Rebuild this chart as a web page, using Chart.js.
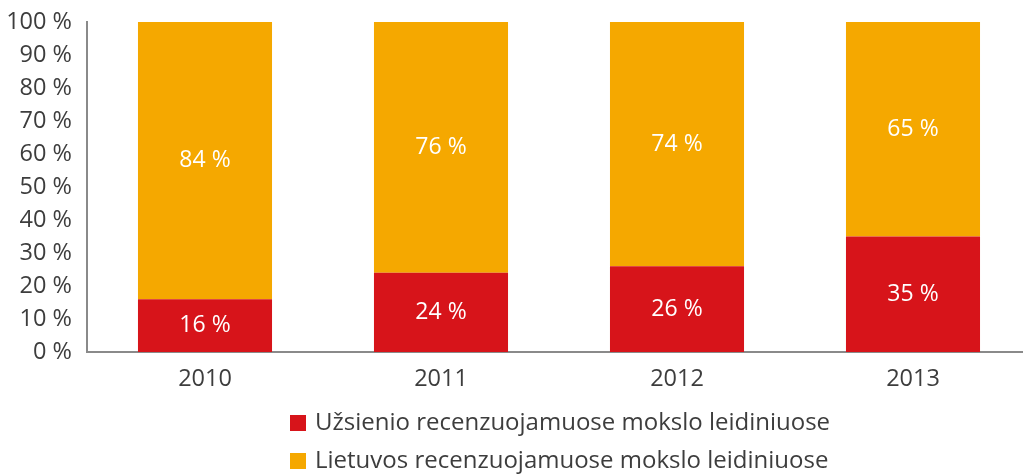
<!DOCTYPE html>
<html>
<head>
<meta charset="utf-8">
<script src="https://cdn.jsdelivr.net/npm/chart.js@4"></script>
<style>
  html, body { margin: 0; padding: 0; background: #fff; overflow: hidden; }
  #wrap { width: 1031px; height: 474px; }
</style>
</head>
<body>
<div id="wrap"><canvas id="myChart" width="1031" height="474"></canvas></div>
<script>
var years = ["2010", "2011", "2012", "2013"];
var foreignPct = [16, 24, 26, 35];
var lithuanianPct = [84, 76, 74, 65];
var seriesNames = ["Užsienio recenzuojamuose mokslo leidiniuose", "Lietuvos recenzuojamuose mokslo leidiniuose"];

var FONT = "'Open Sans', sans-serif";
var TEXT = "#3d3d3d";

// white % labels inside each segment + stacked legend underneath
var segLabels = {
  id: 'segLabels',
  afterDatasetsDraw: function (chart) {
    var ctx = chart.ctx;
    ctx.save();
    ctx.fillStyle = "#fff";
    ctx.font = "23px " + FONT;
    ctx.textAlign = "center";
    ctx.textBaseline = "middle";
    chart.data.datasets.forEach(function (ds, i) {
      chart.getDatasetMeta(i).data.forEach(function (bar, j) {
        var mid = (bar.y + bar.base) / 2;
        ctx.fillText(ds.data[j] + " %", bar.x, mid);
      });
    });
    ctx.restore();
  },
  afterDraw: function (chart) {
    var ctx = chart.ctx;
    ctx.save();
    ctx.font = "24px " + FONT;
    ctx.textBaseline = "middle";
    ctx.textAlign = "left";
    var rows = [423, 461];
    chart.data.datasets.forEach(function (ds, i) {
      ctx.fillStyle = ds.backgroundColor;
      ctx.fillRect(290, rows[i] - 8, 16, 16);
      ctx.fillStyle = TEXT;
      ctx.fillText(ds.label, 315, rows[i]);
    });
    ctx.restore();
  }
};

new Chart(document.getElementById("myChart"), {
  type: 'bar',
  data: {
    labels: years,
    datasets: [{
      label: seriesNames[0],
      data: foreignPct,
      backgroundColor: "#D7141A",
      barPercentage: 0.568,
      categoryPercentage: 1
    }, {
      label: seriesNames[1],
      data: lithuanianPct,
      backgroundColor: "#F5A800",
      barPercentage: 0.568,
      categoryPercentage: 1
    }]
  },
  options: {
    responsive: false,
    animation: false,
    layout: { padding: { top: 22, left: 0, right: 0, bottom: 69 } },
    plugins: {
      legend: { display: false },
      tooltip: { enabled: false }
    },
    scales: {
      x: {
        stacked: true,
        afterFit: function (scale) { scale.height = 53; },
        grid: { display: false },
        border: { display: true, color: "#8a8a8a", width: 2 },
        ticks: { color: TEXT, font: { family: FONT, size: 23.5 }, padding: 5 }
      },
      y: {
        stacked: true,
        min: 0,
        max: 100,
        afterFit: function (scale) { scale.width = 87; scale.paddingTop = 0; },
        grid: { display: false },
        border: { display: true, color: "#8a8a8a", width: 2 },
        ticks: {
          stepSize: 10,
          color: TEXT,
          padding: 7,
          font: { family: FONT, size: 23.5 },
          callback: function (v) { return v + " %"; }
        }
      }
    }
  },
  plugins: [segLabels]
});
</script>
</body>
</html>
